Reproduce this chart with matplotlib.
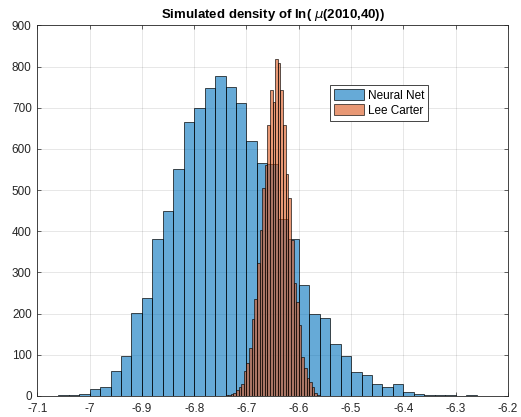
import numpy as np
import matplotlib
matplotlib.use("Agg")
import matplotlib.pyplot as plt

plt.rcParams["font.family"] = ["Liberation Sans", "DejaVu Sans"]

# Neural Net histogram: bins of width 0.02 starting at -7.06
nn_start = -7.06
nn_width = 0.02
nn_counts = [2, 2, 4, 16, 23, 60, 96, 202, 239, 381,
             449, 551, 666, 700, 749, 777, 750, 711, 619, 566,
             563, 430, 381, 269, 199, 190, 126, 97, 58, 51,
             30, 23, 28, 10, 6, 3, 2, 2, 1, 3]

# Lee Carter histogram: bins of width 0.005 starting at -6.74
lc_start = -6.74
lc_width = 0.005
lc_counts = [2, 2, 4, 8, 15, 23, 28, 61, 79, 116,
             187, 235, 322, 403, 505, 560, 658, 742, 714, 819,
             809, 742, 659, 539, 480, 380, 275, 229, 172, 94,
             67, 44, 33, 21, 8, 2]

xticks = [-7.1, -7.0, -6.9, -6.8, -6.7, -6.6, -6.5, -6.4, -6.3, -6.2]
xtick_labels = ["-7.1", "-7", "-6.9", "-6.8", "-6.7", "-6.6", "-6.5", "-6.4", "-6.3", "-6.2"]
yticks = [0, 100, 200, 300, 400, 500, 600, 700, 800, 900]

blue = (0.0, 0.447, 0.741, 0.6)
orange = (0.85, 0.325, 0.098, 0.6)
edge = (0.0, 0.0, 0.0, 0.8)
axis_col = "#262626"

fig = plt.figure(figsize=(5.21, 4.17), dpi=100)
ax = fig.add_axes([0.0716, 0.0504, 0.9034, 0.8886])

nn_left = nn_start + nn_width * np.arange(len(nn_counts))
lc_left = lc_start + lc_width * np.arange(len(lc_counts))

ax.bar(nn_left, nn_counts, width=nn_width, align="edge", facecolor=blue,
       edgecolor=edge, linewidth=0.6, label="Neural Net", zorder=2)
ax.bar(lc_left, lc_counts, width=lc_width, align="edge", facecolor=orange,
       edgecolor=edge, linewidth=0.55, label="Lee Carter", zorder=3)

ax.set_xlim(-7.1, -6.2)
ax.set_ylim(0, 900)
ax.set_xticks(xticks)
ax.set_xticklabels(xtick_labels)
ax.set_yticks(yticks)
ax.tick_params(direction="in", length=3, width=0.5, colors=axis_col,
               labelsize=8.5, top=True, right=True)
ax.tick_params(axis="x", pad=5)
ax.tick_params(axis="y", pad=4)
for s in ax.spines.values():
    s.set_color(axis_col)
    s.set_linewidth(0.6)
ax.grid(True, color="#262626", alpha=0.13, linewidth=0.6, zorder=0)
ax.set_axisbelow(True)

ax.set_title(r"Simulated density of ln( $\mu$(2010,40))", fontsize=9.5,
             fontweight="bold", pad=5, color="black")

leg = ax.legend(loc="upper left", bbox_to_anchor=(0.622, 0.838), fontsize=8.5,
                handlelength=2.6, handleheight=1.05, handletextpad=0.3,
                borderpad=0.3, labelspacing=0.25, fancybox=False,
                framealpha=1, edgecolor=axis_col, borderaxespad=0)
leg.get_frame().set_linewidth(0.6)

plt.savefig("out.png", dpi=100)
plt.close()
